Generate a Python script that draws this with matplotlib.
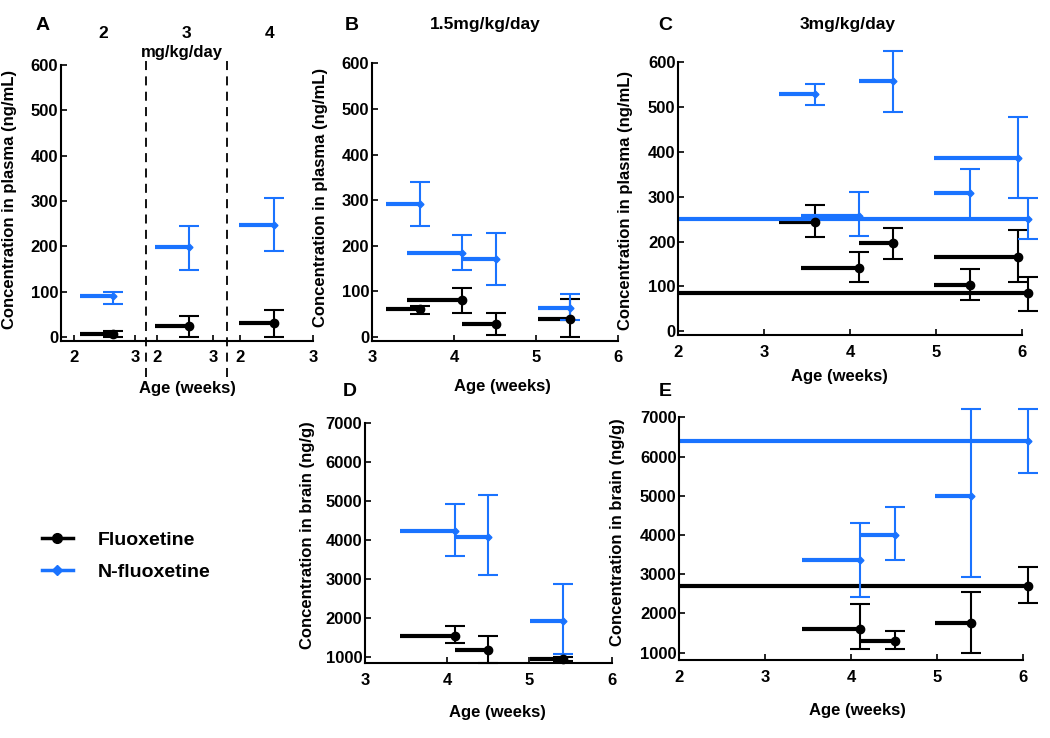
import matplotlib
matplotlib.use("Agg")
import matplotlib.pyplot as plt
from matplotlib.lines import Line2D
from matplotlib.legend_handler import HandlerLine2D

plt.rcParams['font.family'] = ['Liberation Sans', 'DejaVu Sans']
plt.rcParams['font.weight'] = 'bold'
plt.rcParams['axes.labelweight'] = 'bold'
plt.rcParams['font.size'] = 12

BLUE = '#1a73ff'

# ---- data (age in weeks: start of dosing -> sampling age) ----
# panel A : one interval per dose (2, 3, 4 mg/kg/day)
a_doses = ['2', '3', '4']
a_start = [2.09, 1.97, 1.99]
a_end = [2.64, 2.58, 2.46]
a_flx = [7, 25, 31]
a_flx_lo = [0, 1, 0]
a_flx_hi = [13, 47, 59]
a_nflx = [90, 199, 247]
a_nflx_lo = [74, 149, 189]
a_nflx_hi = [100, 245, 306]

# panel B : plasma, 1.5 mg/kg/day
b_start = [3.17, 3.43, 4.10, 5.02]
b_end = [3.59, 4.10, 4.51, 5.42]
b_flx = [61, 81, 28, 40]
b_flx_lo = [50, 53, 5, 0]
b_flx_hi = [68, 107, 53, 84]
b_nflx = [292, 185, 172, 63]
b_nflx_lo = [243, 147, 114, 37]
b_nflx_hi = [340, 224, 229, 94]

# panel C : plasma, 3 mg/kg/day
c_start = [3.17, 3.43, 4.10, 4.98, 4.98, 2.00]
c_end = [3.59, 4.10, 4.50, 5.40, 5.96, 6.07]
c_flx = [243, 142, 196, 103, 165, 85]
c_flx_lo = [209, 109, 162, 70, 111, 46]
c_flx_hi = [281, 177, 229, 139, 226, 122]
c_nflx = [528, 256, 557, 307, 385, 251]
c_nflx_lo = [503, 212, 489, 251, 296, 206]
c_nflx_hi = [551, 310, 623, 361, 478, 297]

# panel D : brain, 1.5 mg/kg/day
d_start = [3.43, 4.10, 5.01]
d_end = [4.10, 4.50, 5.41]
d_flx = [1540, 1170, 940]
d_flx_lo = [1340, 830, 900]
d_flx_hi = [1780, 1520, 980]
d_nflx = [4230, 4080, 1915]
d_nflx_lo = [3575, 3100, 1070]
d_nflx_hi = [4920, 5150, 2875]

# panel E : brain, 3 mg/kg/day
e_start = [3.43, 4.10, 4.98, 2.00]
e_end = [4.10, 4.51, 5.40, 6.06]
e_flx = [1600, 1300, 1750, 2700]
e_flx_lo = [1090, 1100, 980, 2270]
e_flx_hi = [2230, 1550, 2540, 3170]
e_nflx = [3350, 4000, 5000, 6390]
e_nflx_lo = [2420, 3350, 2917, 5590]
e_nflx_hi = [4310, 4700, 7207, 7207]

plasma_ticks = [0, 100, 200, 300, 400, 500, 600]
brain_ticks = [1000, 2000, 3000, 4000, 5000, 6000, 7000]

W, H = 1050, 738
fig = plt.figure(figsize=(W / 100, H / 100), dpi=100)


def box(l, r, t, b):
    return [l / W, 1 - b / H, (r - l) / W, (b - t) / H]


def fx(x):
    return x / W


def fy(y):
    return 1 - y / H


def style(ax, left=True):
    for s in ['top', 'right']:
        ax.spines[s].set_visible(False)
    ax.spines['bottom'].set_linewidth(1.5)
    ax.spines['left'].set_linewidth(1.5)
    if not left:
        ax.spines['left'].set_visible(False)
        ax.tick_params(axis='y', left=False, labelleft=False)
    ax.tick_params(direction='in', length=4, width=1.2, labelsize=12)
    ax.tick_params(axis='y', pad=2)
    ax.tick_params(axis='x', pad=7)


def draw(ax, start, end, mean, lo, hi, color, marker, ms):
    for s, e, m, l, h in zip(start, end, mean, lo, hi):
        ax.plot([s, e], [m, m], color=color, lw=3, solid_capstyle='butt', clip_on=False)
        eb = ax.errorbar([e], [m], yerr=[[m - l], [h - m]], fmt=marker, color=color, ms=ms,
                         elinewidth=1.5, capsize=7, capthick=1.5, clip_on=False)
        for art in list(eb.lines[1]) + list(eb.lines[2]):
            art.set_clip_on(False)


def both(ax, start, end, f, flo, fhi, n, nlo, nhi):
    draw(ax, start, end, f, flo, fhi, 'black', 'o', 6)
    draw(ax, start, end, n, nlo, nhi, BLUE, 'D', 3.5)


# ---- panel A : three dose groups side by side ----
a_edges = [(61, 146), (146, 227), (227, 313)]
a_xlims = [(1.783, 3.183), (1.81, 3.25), (1.82, 3.0)]
a_axes = []
for i, ((l, r), xl) in enumerate(zip(a_edges, a_xlims)):
    ax = fig.add_axes(box(l, r, 65, 340.7))
    style(ax, left=(i == 0))
    ax.set_xlim(*xl)
    ax.set_ylim(-8, 600)
    ax.set_xticks([2, 3])
    ax.set_yticks(plasma_ticks)
    both(ax, [a_start[i]], [a_end[i]], [a_flx[i]], [a_flx_lo[i]], [a_flx_hi[i]],
         [a_nflx[i]], [a_nflx_lo[i]], [a_nflx_hi[i]])
    if i > 0:
        ax.axvline(xl[0], ymin=-0.132, ymax=1.029, color='black', lw=1.3,
                   ls=(0, (5, 3.5)), clip_on=False)
    fig.text(fx((l + r) / 2), fy(33), a_doses[i], ha='center', va='center', fontsize=12.5)
    a_axes.append(ax)

a_axes[0].set_ylabel('Concentration in plasma (ng/mL)', fontsize=12)
a_axes[0].yaxis.set_label_coords(fx(17), fy(199), transform=fig.transFigure)
a_axes[0].set_xlabel('Age (weeks)', fontsize=12)
a_axes[0].xaxis.set_label_coords(fx(187), fy(388), transform=fig.transFigure)
a_axes[0].xaxis.label.set_va('center')
fig.text(fx(182), fy(53), 'mg/kg/day', ha='center', va='center', fontsize=12)

# ---- panels B-E ----
panels = [
    ('B', box(372, 618, 63.3, 340.7), (3, 6), (-8, 600), [3, 4, 5, 6], plasma_ticks,
     (b_start, b_end, b_flx, b_flx_lo, b_flx_hi, b_nflx, b_nflx_lo, b_nflx_hi),
     'Concentration in plasma (ng/mL)', (328, 197), (502, 387), (352, 25)),
    ('C', box(678.3, 1021.7, 61.7, 335), (2, 6), (-8, 600), [2, 3, 4, 5, 6], plasma_ticks,
     (c_start, c_end, c_flx, c_flx_lo, c_flx_hi, c_nflx, c_nflx_lo, c_nflx_hi),
     'Concentration in plasma (ng/mL)', (633, 200), (839, 377), (665, 25)),
    ('D', box(365, 611.7, 422.7, 663.3), (3, 6), (830, 7000), [3, 4, 5, 6], brain_ticks,
     (d_start, d_end, d_flx, d_flx_lo, d_flx_hi, d_nflx, d_nflx_lo, d_nflx_hi),
     'Concentration in brain (ng/g)', (315, 535), (497, 712), (350, 392)),
    ('E', box(679.3, 1022.7, 417.3, 660), (2, 6), (810, 7000), [2, 3, 4, 5, 6], brain_ticks,
     (e_start, e_end, e_flx, e_flx_lo, e_flx_hi, e_nflx, e_nflx_lo, e_nflx_hi),
     'Concentration in brain (ng/g)', (625, 532), (857, 710), (665, 392)),
]

for letter, rect, xl, yl, xt, yt, data, ylab, ylpos, xlpos, letpos in panels:
    ax = fig.add_axes(rect)
    style(ax)
    ax.set_xlim(*xl)
    ax.set_ylim(*yl)
    ax.set_xticks(xt)
    ax.set_yticks(yt)
    both(ax, *data)
    ax.set_ylabel(ylab, fontsize=12)
    ax.yaxis.set_label_coords(fx(ylpos[0]), fy(ylpos[1]), transform=fig.transFigure)
    ax.set_xlabel('Age (weeks)', fontsize=12)
    ax.xaxis.set_label_coords(fx(xlpos[0]), fy(xlpos[1]), transform=fig.transFigure)
    ax.xaxis.label.set_va('center')
    fig.text(fx(letpos[0]), fy(letpos[1]), letter, ha='center', va='center', fontsize=14)

fig.text(fx(43), fy(25), 'A', ha='center', va='center', fontsize=14)
fig.text(fx(485), fy(25), '1.5mg/kg/day', ha='center', va='center', fontsize=12.5)
fig.text(fx(848), fy(25), '3mg/kg/day', ha='center', va='center', fontsize=12.5)


# ---- legend with marker at the line end ----
class HandlerEnd(HandlerLine2D):
    def get_xdata(self, legend, xdescent, ydescent, width, height, fontsize):
        xdata, _ = super().get_xdata(legend, xdescent, ydescent, width, height, fontsize)
        return xdata, [xdata[-1] - 3]


handles = [Line2D([], [], color='black', lw=2.5, marker='o', ms=7),
           Line2D([], [], color=BLUE, lw=2.5, marker='D', ms=5.5)]
fig.legend(handles, ['Fluoxetine', 'N-fluoxetine'], loc='center left',
           bbox_to_anchor=(fx(24), fy(556)), frameon=False, numpoints=1,
           handlelength=1.6, handletextpad=1.3, labelspacing=0.75, fontsize=14,
           handler_map={Line2D: HandlerEnd()})

fig.savefig('out.png', dpi=100)
